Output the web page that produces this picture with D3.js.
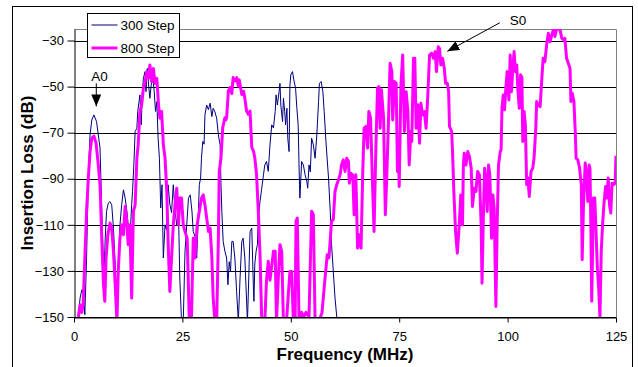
<!DOCTYPE html>
<html>
<head>
<meta charset="utf-8">
<script src="https://cdn.jsdelivr.net/npm/d3@7"></script>
<style>
    body { margin: 0; background: #fff; }
    svg { display: block; font-family: "Liberation Sans", Arial, sans-serif; }
</style>
</head>
<body>
<div id="chart-container"></div>
<script>
// 300 Step series (frequency in MHz, insertion loss in dB)
const freq300 = [1.0, 1.4, 1.8, 2.2, 2.5, 2.9, 3.3, 3.7, 4.1, 4.6, 5.2, 5.6, 6.0, 6.2, 6.5, 6.9, 7.2, 7.5, 7.9, 8.3,
    8.7, 9.1, 9.5, 9.9, 10.2, 10.6, 11.0, 11.4, 11.8, 12.2, 12.5, 12.9, 13.3, 13.5, 13.8, 14.1, 14.5, 14.7, 15.0, 15.2,
    15.5, 15.8, 16.0, 16.4, 16.6, 16.9, 17.2, 17.5, 17.8, 18.2, 18.5, 18.8, 19.1, 19.4, 19.7, 20.0, 20.3, 20.6, 21.0, 21.3,
    21.7, 22.1, 22.5, 22.9, 23.3, 23.7, 24.1, 24.4, 24.8, 25.2, 25.6, 26.0, 26.4, 26.8, 27.2, 27.5, 27.9, 28.3, 28.6, 28.9,
    29.2, 29.4, 29.7, 30.0, 30.2, 30.6, 31.0, 31.4, 31.8, 32.1, 32.5, 32.9, 33.3, 33.7, 33.9, 34.1, 34.4, 34.8, 35.2, 35.5,
    35.8, 36.1, 36.4, 36.7, 37.1, 37.5, 37.9, 38.3, 38.7, 39.0, 39.4, 40.0, 40.2, 40.6, 41.0, 41.4, 41.5, 41.7, 42.0, 42.3,
    42.5, 42.9, 43.3, 43.7, 44.0, 44.4, 44.8, 45.2, 45.6, 46.0, 46.4, 46.6, 46.9, 47.3, 47.5, 47.7, 48.1, 48.3, 48.6, 48.8,
    49.1, 49.3, 49.6, 49.8, 50.0, 50.4, 50.7, 51.1, 51.4, 51.7, 52.0, 52.1, 52.5, 52.9, 53.3, 53.7, 53.9, 54.2, 54.5, 54.8,
    55.2, 55.6, 56.0, 56.4, 56.6, 57.0, 57.4, 57.7, 58.1, 58.7, 59.1, 59.4, 59.8, 60.2, 60.7];
const loss300 = [-150, -141.8, -138.2, -140.3, -149, -124.4, -89.7, -71, -64.5, -62.3, -65.2, -71, -76.7, -89.7, -110, -133.1, -115.8, -104.2, -100.6, -99.9,
    -101.3, -111.4, -127.3, -147.6, -127.3, -110, -101.3, -94.8, -98.4, -104.2, -110, -115.8, -101.3, -95.5, -84, -69.5, -68.1, -60.8, -56.5, -53.6,
    -66.6, -52.2, -46.4, -43.5, -52.2, -42.1, -49.3, -55.1, -49.3, -46.4, -52.2, -60.8, -56.5, -72.4, -81.1, -102.7, -92.6, -124.4, -110, -112,
    -92.6, -101, -104.7, -92.6, -104, -110, -104.2, -133.1, -152, -152, -121.5, -110, -98.4, -97, -104, -112.9, -115, -124.4, -110, -92.6,
    -89.7, -81.1, -73.8, -75, -62.3, -58, -60, -57.2, -63, -59.4, -61, -63.7, -71, -75.3, -92.6, -104.2, -117.2, -121.5, -124.4, -136,
    -126, -130.2, -117.2, -117.2, -124.4, -138.9, -152, -133, -117.2, -115.8, -124.4, -152, -140, -112.9, -111.4, -138.9, -143.2, -127, -121.5, -118.6,
    -107.1, -99.9, -94.1, -88.3, -84, -82.5, -86.8, -75.3, -66.6, -68, -60.8, -53.6, -58, -52.2, -48.6, -58, -65.2, -55.1, -60.8, -66.6,
    -59.4, -72.4, -78.2, -49.3, -44.9, -43.5, -47.1, -50.7, -59.4, -66.6, -92.6, -98.4, -82.5, -84, -88.3, -91.2, -94.1, -84, -87, -72.4,
    -75.3, -81.1, -71, -56.5, -48.6, -47.8, -52.2, -60.8, -73.8, -89.7, -104.2, -118.6, -130.2, -141.8, -152];

// 800 Step series
const freq800 = [1.0, 1.4, 1.8, 2.1, 2.5, 2.9, 3.3, 3.7, 4.1, 4.6, 5.1, 5.6, 6.0, 6.4, 6.8, 7.1, 7.4, 7.8, 8.3, 8.7,
    9.1, 9.5, 9.9, 10.2, 10.6, 11.0, 11.4, 11.8, 12.1, 12.5, 12.9, 13.3, 13.7, 14.1, 14.5, 14.8, 15.2, 15.6, 16.0, 16.4,
    16.8, 17.2, 17.5, 17.9, 18.3, 18.7, 19.1, 19.5, 19.8, 20.2, 20.6, 21.0, 21.4, 21.7, 22.1, 22.5, 22.9, 23.3, 23.7, 24.1,
    24.4, 24.8, 25.2, 25.6, 26.1, 26.6, 27.1, 27.5, 27.9, 28.4, 28.9, 29.4, 29.8, 30.2, 30.6, 31.0, 31.4, 31.8, 32.1, 32.5,
    32.9, 33.3, 33.5, 33.9, 34.3, 34.8, 35.0, 35.2, 35.6, 36.0, 36.4, 36.7, 37.1, 37.5, 37.9, 38.1, 38.7, 39.1, 39.4, 39.8,
    40.2, 40.6, 41.0, 41.4, 41.7, 42.1, 42.5, 42.9, 43.3, 44.0, 44.4, 44.8, 45.2, 45.6, 46.0, 46.4, 46.7, 47.1, 47.5, 47.9,
    48.3, 49.0, 49.8, 50.2, 50.6, 51.0, 51.2, 51.5, 51.9, 52.5, 53.0, 53.5, 54.2, 54.8, 55.2, 55.6, 56.5, 57.2, 57.9, 58.4,
    58.8, 59.4, 59.8, 60.2, 60.6, 60.9, 61.4, 61.7, 62.1, 62.5, 62.9, 63.3, 63.5, 63.8, 64.3, 64.6, 65.0, 65.2, 65.4, 65.8,
    66.2, 66.6, 66.9, 67.3, 67.7, 68.0, 68.4, 68.8, 69.2, 69.6, 70.0, 70.3, 70.6, 70.9, 71.4, 71.8, 72.1, 72.5, 72.9, 73.3,
    73.5, 73.9, 74.3, 74.6, 74.8, 75.0, 75.4, 75.8, 76.2, 76.6, 77.0, 77.3, 77.7, 77.9, 78.3, 78.6, 78.9, 79.3, 79.7, 80.0,
    80.4, 80.8, 81.2, 81.6, 82.0, 82.5, 82.9, 83.3, 83.6, 84.0, 84.3, 84.6, 85.0, 85.4, 85.7, 86.1, 86.4, 86.6, 87.1, 87.3,
    87.6, 88.0, 88.4, 88.9, 89.2, 89.6, 89.8, 90.0, 90.4, 90.8, 91.2, 91.6, 91.9, 92.3, 92.7, 93.1, 93.5, 93.9, 94.1, 94.4,
    94.7, 95.0, 95.3, 95.6, 95.9, 96.3, 96.6, 96.9, 97.3, 97.6, 97.9, 98.3, 98.5, 98.7, 99.0, 99.3, 99.6, 99.9, 100.3, 100.6,
    100.9, 101.2, 101.5, 101.8, 102.1, 102.4, 102.7, 103.0, 103.3, 103.5, 103.8, 104.1, 104.4, 104.7, 105.0, 105.4, 105.8, 106.1, 106.5, 106.7,
    107.1, 107.5, 107.9, 108.2, 108.6, 109.0, 109.4, 109.8, 110.2, 110.6, 110.9, 111.3, 111.7, 112.1, 112.5, 112.9, 113.2, 113.6, 114.0, 114.4,
    114.6, 114.9, 115.3, 115.6, 115.8, 116.2, 116.6, 117.0, 117.2, 117.5, 117.9, 118.2, 118.5, 118.8, 119.0, 119.2, 119.4, 119.8, 120.1, 120.4,
    120.7, 121.0, 121.3, 121.6, 121.9, 122.2, 122.6, 122.9, 123.2, 123.5, 123.8, 124.1, 124.4, 124.8, 125.0];
const loss800 = [-150, -144.7, -148, -144.7, -124.4, -104.2, -89.7, -78.2, -72.4, -71.5, -74.6, -84, -92.6, -115.8, -136, -143.2, -124.4, -114.3, -109.2, -111.4,
    -121.5, -136, -152, -130.2, -115.8, -110, -114.3, -102, -107.1, -118.6, -110, -141.8, -104.2, -101.3, -81.1, -75.3, -60.8, -58, -50.7, -47.8,
    -43.5, -46.4, -40.6, -47.8, -42.1, -48.6, -46.4, -58, -63.7, -60.8, -75, -81.1, -95.5, -117.2, -138.9, -124.4, -110, -101.3, -94.1, -110,
    -98.4, -98.4, -110, -112.9, -115.8, -152, -150, -115.8, -124.4, -110, -104.2, -98.4, -97, -101.3, -107.1, -112.9, -111.4, -124.4, -141.8, -152,
    -152, -115.8, -86.8, -81, -67.8, -63.5, -64.5, -63.5, -51.9, -50.4, -53, -46.1, -47.5, -46.1, -49.7, -47, -53.4, -52, -55, -60.6,
    -62, -60.6, -76.5, -78, -80.9, -88.1, -104, -122.9, -152, -152, -134, -125.8, -134, -128, -121.5, -121.5, -152, -134, -118.6, -121.5,
    -152, -152, -130.2, -130.2, -152, -152, -108.4, -107.1, -152, -148, -150, -148, -150, -104.1, -105.6, -152, -152, -148, -133, -123,
    -124.4, -108.4, -107.7, -95.4, -92.6, -91, -88, -84, -81.8, -86.8, -81.1, -82.5, -91.9, -87.6, -88.3, -105.6, -88.3, -104.2, -120.1, -114.3,
    -120.1, -86.8, -68.1, -67.3, -76.7, -60.8, -63.7, -89.7, -112.9, -78.2, -50.7, -50, -68.1, -51.4, -63.7, -105.6, -91.2, -66.6, -39.9, -43.5,
    -64.5, -47.8, -48.6, -86.8, -75.3, -93.4, -49.3, -36.3, -69.5, -52.2, -60.8, -84, -69.5, -73.8, -37.7, -37.7, -68.1, -57.9, -74.6, -57.2,
    -62.3, -60.8, -68.1, -53.6, -36.3, -35.5, -37.7, -34.8, -43.5, -32.7, -33.4, -40.6, -37.7, -42.1, -48.6, -48.6, -52.2, -67.3, -69.5, -78.2,
    -95.5, -112.9, -122.3, -108.5, -97, -110, -84, -78.9, -84, -78.2, -80.3, -85.4, -102, -94.1, -95.5, -86.8, -88.3, -110, -135.3, -107.1,
    -85.4, -91.2, -104.2, -84, -88.3, -115.8, -97, -102.7, -145.4, -110, -84, -78.2, -77.5, -59.4, -53.6, -60.1, -50.7, -43.5, -55.8, -36.3,
    -52.2, -42.1, -34.8, -43.5, -40.6, -52.2, -59.4, -44.9, -46, -73.8, -60.8, -66.6, -92.6, -89.7, -97.7, -86.8, -85.4, -81.1, -68.1, -56.5,
    -58, -58.7, -46.4, -37.7, -39.2, -31.9, -26.9, -30.5, -27.6, -25, -28.3, -25, -25, -25.4, -29, -29.8, -29, -37.7, -39.9, -42.1,
    -56.5, -52.9, -56.5, -69.5, -81.1, -81.8, -85.4, -92.6, -125.1, -101.3, -83.2, -88.3, -99.9, -84, -85.4, -110, -143.2, -98.4, -98.4, -112.9,
    -128.8, -137.4, -150, -121.5, -110, -101.3, -93.4, -98.4, -89.7, -101.3, -104.9, -91.9, -92.6, -91.9, -80];

const seriesNames = ['300 Step', '800 Step'];
const seriesColors = ['#000080', '#ff00ff'];
const seriesWidths = [1, 3];

const xTicks = [0, 25, 50, 75, 100, 125];
const yTicks = [-30, -50, -70, -90, -110, -130, -150];

// Arrow annotations, in data units (text anchor, arrow start, arrow tip)
const annotations = [
    { label: 'A0', tx: 5.9, ty: -47.7, x1: 5.14, y1: -48.6, x2: 5.14, y2: -58.6 },
    { label: 'S0', tx: 102.4, ty: -23.3, x1: 98.2, y1: -22.3, x2: 86.1, y2: -34.7 }
];

const W = 638, H = 367;
const margin = { top: 29, right: 22, bottom: 50, left: 74 };
const width = W - margin.left - margin.right;
const height = H - margin.top - margin.bottom;

const root = d3.select('#chart-container')
    .append('svg')
    .attr('width', W)
    .attr('height', H);

// Outer chart border
root.append('rect')
    .attr('x', 12.5)
    .attr('y', 6.5)
    .attr('width', 620)
    .attr('height', 400)
    .attr('fill', '#fff')
    .attr('stroke', '#000')
    .attr('stroke-width', 1);

const defs = root.append('defs');
defs.append('marker')
    .attr('id', 'arrow')
    .attr('viewBox', '0 0 12 10')
    .attr('refX', 12)
    .attr('refY', 5)
    .attr('markerWidth', 12)
    .attr('markerHeight', 10)
    .attr('markerUnits', 'userSpaceOnUse')
    .attr('orient', 'auto')
    .append('path')
    .attr('d', 'M0,0L12,5L0,10Z')
    .attr('fill', '#000');

defs.append('clipPath')
    .attr('id', 'plot-clip')
    .append('rect')
    .attr('width', width)
    .attr('height', height);

const svg = root.append('g')
    .attr('transform', `translate(${margin.left},${margin.top})`);

const xScale = d3.scaleLinear().domain([0, 125]).range([0, width]);
const yScale = d3.scaleLinear().domain([-150, -25]).range([height, 0]);

// Plot area frame (gray top / right)
svg.append('path')
    .attr('d', `M0.5,0.5H${width + 0.5}V${height}`)
    .attr('fill', 'none')
    .attr('stroke', '#808080')
    .attr('stroke-width', 1);

// Horizontal grid lines
svg.append('g')
    .selectAll('line')
    .data(yTicks)
    .join('line')
    .attr('x1', 0)
    .attr('x2', width)
    .attr('y1', d => Math.round(yScale(d)) + 0.5)
    .attr('y2', d => Math.round(yScale(d)) + 0.5)
    .attr('stroke', '#000')
    .attr('stroke-width', 1);

// Series lines
const line = d3.line()
    .x(d => xScale(d[0]))
    .y(d => yScale(d[1]));

const seriesData = [
    d3.zip(freq300, loss300),
    d3.zip(freq800, loss800)
];

const plot = svg.append('g').attr('clip-path', 'url(#plot-clip)');
seriesData.forEach((pts, i) => {
    plot.append('path')
        .datum(pts)
        .attr('fill', 'none')
        .attr('stroke', seriesColors[i])
        .attr('stroke-width', seriesWidths[i])
        .attr('stroke-linejoin', 'round')
        .attr('d', line);
});

// Y axis
const yAxis = svg.append('g')
    .attr('transform', 'translate(0.5,0)')
    .call(d3.axisLeft(yScale).tickValues(yTicks).tickSize(7).tickPadding(3.5).tickSizeOuter(0));
yAxis.selectAll('text').attr('font-size', '13px').attr('fill', '#000').attr('font-family', null);
yAxis.selectAll('line, path').attr('stroke', '#000');

// X axis
const xAxis = svg.append('g')
    .attr('transform', `translate(0,${Math.round(height) + 0.5})`)
    .call(d3.axisBottom(xScale).tickValues(xTicks).tickSize(5).tickPadding(9.5).tickSizeOuter(0));
xAxis.selectAll('text').attr('font-size', '13px').attr('fill', '#000').attr('font-family', null);
xAxis.selectAll('line, path').attr('stroke', '#000');

// Axis titles
svg.append('text')
    .attr('x', width / 2)
    .attr('y', height + 43)
    .attr('text-anchor', 'middle')
    .attr('font-size', '17px')
    .attr('font-weight', 'bold')
    .text('Frequency (MHz)');

svg.append('text')
    .attr('transform', `translate(${33 - margin.left},${height / 2}) rotate(-90)`)
    .attr('text-anchor', 'middle')
    .attr('font-size', '17px')
    .attr('font-weight', 'bold')
    .text('Insertion Loss (dB)');

// Annotations
annotations.forEach(a => {
    svg.append('text')
        .attr('x', xScale(a.tx))
        .attr('y', yScale(a.ty))
        .attr('text-anchor', 'middle')
        .attr('font-size', '13.5px')
        .text(a.label);
    svg.append('line')
        .attr('x1', xScale(a.x1))
        .attr('y1', yScale(a.y1))
        .attr('x2', xScale(a.x2))
        .attr('y2', yScale(a.y2))
        .attr('stroke', '#000')
        .attr('stroke-width', 1)
        .attr('marker-end', 'url(#arrow)');
});

// Legend
const legend = root.append('g').attr('transform', 'translate(87.5,13.5)');
legend.append('rect')
    .attr('width', 92)
    .attr('height', 44)
    .attr('fill', '#fff')
    .attr('stroke', '#000')
    .attr('stroke-width', 1);

seriesNames.forEach((name, i) => {
    const cy = 11.5 + i * 23;
    legend.append('line')
        .attr('x1', 4)
        .attr('x2', 30)
        .attr('y1', cy)
        .attr('y2', cy)
        .attr('stroke', seriesColors[i])
        .attr('stroke-width', seriesWidths[i]);
    legend.append('text')
        .attr('x', 33)
        .attr('y', cy + 5)
        .attr('font-size', '13.5px')
        .text(name);
});
</script>
</body>
</html>
